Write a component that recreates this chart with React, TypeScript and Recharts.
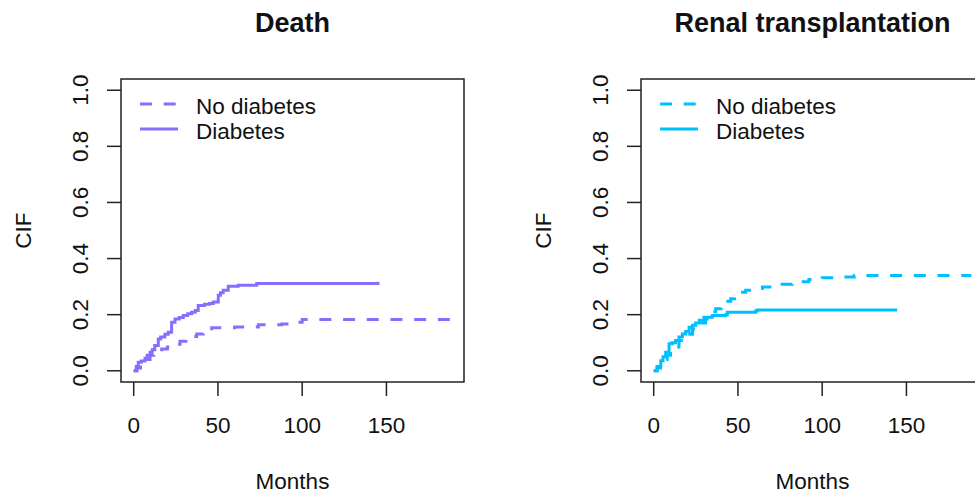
import { LineChart, Line, XAxis, YAxis, ReferenceArea } from "recharts";

// cumulative incidence, death
const deathDiabetesMonths = [0, 1.5, 2.7, 4.5, 6.7, 8, 9.7, 11, 12.5, 14.6, 16, 18.5, 20.5, 22.5, 24.5, 27, 29.4, 32, 34.4, 36.5, 38.3, 42, 45, 47.2, 50.2, 51.5, 53.1, 56.1, 62, 73, 145];
const deathDiabetesCif = [0, 0.015, 0.03, 0.035, 0.045, 0.055, 0.066, 0.075, 0.09, 0.113, 0.12, 0.13, 0.137, 0.173, 0.185, 0.19, 0.197, 0.203, 0.209, 0.215, 0.233, 0.237, 0.24, 0.245, 0.269, 0.278, 0.287, 0.301, 0.305, 0.311, 0.317];
const deathNoDiabetesMonths = [0, 2, 4, 6, 9.7, 12, 16.6, 20, 24, 27.5, 31, 34, 37.4, 41.3, 46.3, 60, 74, 87.8, 93.7, 100, 188.5];
const deathNoDiabetesCif = [0, 0.01, 0.025, 0.04, 0.055, 0.066, 0.078, 0.085, 0.095, 0.105, 0.115, 0.122, 0.131, 0.143, 0.153, 0.156, 0.164, 0.167, 0.173, 0.183, 0.183];

// cumulative incidence, renal transplantation
const renalDiabetesMonths = [0, 2, 4.2, 5.5, 7.1, 9.1, 11, 13, 15, 17, 19, 21, 23, 24.9, 27, 29.8, 34.8, 42.7, 43.7, 60.5, 61.5, 144.5];
const renalDiabetesCif = [0, 0.015, 0.036, 0.05, 0.066, 0.096, 0.1, 0.108, 0.12, 0.131, 0.14, 0.155, 0.162, 0.17, 0.18, 0.191, 0.197, 0.2, 0.209, 0.213, 0.217, 0.217];
const renalNoDiabetesMonths = [0, 2, 4, 6, 8, 10, 12, 15, 18, 20, 23, 26, 28, 30.8, 33, 35, 36.8, 40, 43, 45.7, 48, 51, 54.6, 60, 64.5, 70, 74.3, 82.3, 92.1, 100, 107, 119, 188.5];
const renalNoDiabetesCif = [0, 0.01, 0.03, 0.04, 0.055, 0.07, 0.085, 0.108, 0.12, 0.13, 0.149, 0.16, 0.17, 0.185, 0.2, 0.21, 0.221, 0.235, 0.248, 0.257, 0.27, 0.28, 0.287, 0.293, 0.299, 0.303, 0.308, 0.317, 0.325, 0.332, 0.334, 0.34, 0.34];

const seriesNames = ["No diabetes", "Diabetes"];
const xTicks = [0, 50, 100, 150];
const yTicks = [0, 0.2, 0.4, 0.6, 0.8, 1];

const X_MAX = 188.5;
const X_DOMAIN = [-0.04 * X_MAX, X_MAX * 1.04];
const Y_DOMAIN = [-0.04, 1.04];

const W = 520;
const H = 494;
const AXIS_W = 60; // room reserved for y tick labels
const AXIS_H = 60; // room reserved for x tick labels
const M = { top: 79, right: 56, bottom: 112 - AXIS_H, left: 121 - AXIS_W };
const PLOT_LEFT = M.left + AXIS_W;
const CX = PLOT_LEFT + (W - PLOT_LEFT - M.right) / 2;
const CY = M.top + (H - M.top - M.bottom - AXIS_H) / 2;
const FONT = "'Liberation Sans', Arial, sans-serif";
const INK = "#111";
const DASH = "12 11.7";

const toPoints = (t: number[], v: number[]) => t.map((m, i) => ({ t: m, v: v[i] }));

function XTick({ x, y, payload }: any) {
  return (
    <text x={x} y={y + 37} textAnchor="middle" fontSize={22.5} fontFamily={FONT} fill={INK}>
      {payload.value}
    </text>
  );
}

function YTick({ x, y, payload }: any) {
  const bx = x - 19;
  return (
    <text x={bx} y={y} transform={`rotate(-90, ${bx}, ${y})`} textAnchor="middle" fontSize={22.5} fontFamily={FONT} fill={INK}>
      {Number(payload.value).toFixed(1)}
    </text>
  );
}

type PanelProps = {
  title: string;
  color: string;
  noDiabetes: { t: number; v: number }[];
  diabetes: { t: number; v: number }[];
  left: number;
};

function Panel({ title, color, noDiabetes, diabetes, left }: PanelProps) {
  return (
    <div style={{ position: "absolute", left, top: 0 }}>
      <LineChart width={W} height={H} margin={M}>
        <XAxis type="number" dataKey="t" domain={X_DOMAIN} ticks={xTicks} interval={0} height={AXIS_H}
          axisLine={false} tickSize={14} tickMargin={0} tickLine={{ stroke: "#222", strokeWidth: 1.5 }} tick={<XTick />} />
        <YAxis type="number" dataKey="v" domain={Y_DOMAIN} ticks={yTicks} interval={0} width={AXIS_W}
          axisLine={false} tickSize={14} tickMargin={0} tickLine={{ stroke: "#222", strokeWidth: 1.5 }} tick={<YTick />} />
        <ReferenceArea x1={X_DOMAIN[0]} x2={X_DOMAIN[1]} y1={Y_DOMAIN[0]} y2={Y_DOMAIN[1]} fill="none" fillOpacity={0} stroke="#222" strokeWidth={1.5} />
        <Line data={noDiabetes} dataKey="v" type="stepAfter" stroke={color} strokeWidth={3} strokeDasharray={DASH}
          dot={false} activeDot={false} isAnimationActive={false} />
        <Line data={diabetes} dataKey="v" type="stepAfter" stroke={color} strokeWidth={3}
          dot={false} activeDot={false} isAnimationActive={false} />

        <text x={CX} y={32} textAnchor="middle" fontSize={27} fontWeight="bold" fontFamily={FONT} fill={INK}>{title}</text>
        <text x={CX} y={489} textAnchor="middle" fontSize={22.5} fontFamily={FONT} fill={INK}>Months</text>
        <text x={31} y={CY} transform={`rotate(-90, 31, ${CY})`} textAnchor="middle" fontSize={22.5} fontFamily={FONT} fill={INK}>CIF</text>

        {seriesNames.map((name, i) => (
          <g key={name}>
            <line x1={PLOT_LEFT + 19} x2={PLOT_LEFT + 57} y1={104 + i * 25} y2={104 + i * 25} stroke={color} strokeWidth={3}
              strokeDasharray={i === 0 ? DASH : undefined} />
            <text x={PLOT_LEFT + 75} y={114 + i * 25} fontSize={22.5} fontFamily={FONT} fill={INK}>{name}</text>
          </g>
        ))}
      </LineChart>
    </div>
  );
}

export default function App() {
  return (
    <div style={{ position: "absolute", left: 0, top: 0, width: 975, height: 494, overflow: "hidden", background: "#fff" }}>
      <Panel title="Death" color="#8470FF" left={0}
        noDiabetes={toPoints(deathNoDiabetesMonths, deathNoDiabetesCif)}
        diabetes={toPoints(deathDiabetesMonths, deathDiabetesCif)} />
      <Panel title="Renal transplantation" color="#00BFFF" left={519.5}
        noDiabetes={toPoints(renalNoDiabetesMonths, renalNoDiabetesCif)}
        diabetes={toPoints(renalDiabetesMonths, renalDiabetesCif)} />
    </div>
  );
}
